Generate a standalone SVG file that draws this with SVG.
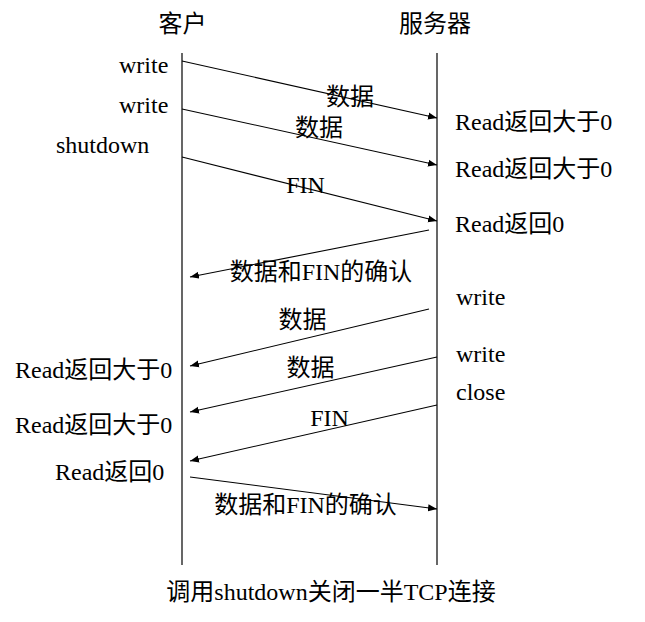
<svg xmlns="http://www.w3.org/2000/svg" width="645" height="622" viewBox="0 0 645 622">
<style>
text{font-family:"Liberation Serif","Noto Sans CJK SC",serif;font-size:24px;fill:#000}
.m{text-anchor:middle}
.life{stroke:#000;stroke-width:1.2}
.msg{stroke:#000;stroke-width:1.1;fill:none;marker-end:url(#ah)}
</style>
<defs>
<marker id="ah" markerUnits="userSpaceOnUse" markerWidth="10" markerHeight="8" refX="9" refY="4" orient="auto">
<path d="M0,0.5 L9,4 L0,7.5 z" fill="#000"/>
</marker>
</defs>
<rect width="645" height="622" fill="#fff"/>
<g id="client">
<text class="m" x="182.5" y="32">客户</text>
<line class="life" x1="182" y1="53" x2="182" y2="565"/>
<text x="119" y="73">write</text>
<text x="119" y="113">write</text>
<text x="56" y="153">shutdown</text>
<text x="15" y="377.5">Read返回大于0</text>
<text x="15" y="432.5">Read返回大于0</text>
<text x="55" y="480">Read返回0</text>
</g>
<g id="server">
<text class="m" x="435" y="32">服务器</text>
<line class="life" x1="437" y1="53" x2="437" y2="565"/>
<text x="455" y="130">Read返回大于0</text>
<text x="455" y="176.5">Read返回大于0</text>
<text x="455" y="231.5">Read返回0</text>
<text x="456" y="305">write</text>
<text x="456" y="361.5">write</text>
<text x="456" y="400">close</text>
</g>
<g id="connectors">
<line class="msg" x1="182" y1="61" x2="437" y2="118"/>
<line class="msg" x1="182" y1="109" x2="437" y2="165"/>
<line class="msg" x1="182" y1="157" x2="437" y2="221"/>
<line class="msg" x1="429" y1="230" x2="190" y2="277"/>
<line class="msg" x1="429" y1="309" x2="190" y2="366"/>
<line class="msg" x1="437" y1="357" x2="190" y2="412"/>
<line class="msg" x1="437" y1="405" x2="190" y2="461"/>
<line class="msg" x1="190" y1="477" x2="437" y2="509"/>
<text class="m" x="350" y="104.5">数据</text>
<text class="m" x="319" y="136">数据</text>
<text class="m" x="305.5" y="193">FIN</text>
<text class="m" x="321" y="280">数据和FIN的确认</text>
<text class="m" x="302.5" y="328">数据</text>
<text class="m" x="310.5" y="376">数据</text>
<text class="m" x="329.5" y="426">FIN</text>
<text class="m" x="305.5" y="513">数据和FIN的确认</text>
</g>
<g id="caption">
<text class="m" x="331" y="600">调用shutdown关闭一半TCP连接</text>
</g>
</svg>
